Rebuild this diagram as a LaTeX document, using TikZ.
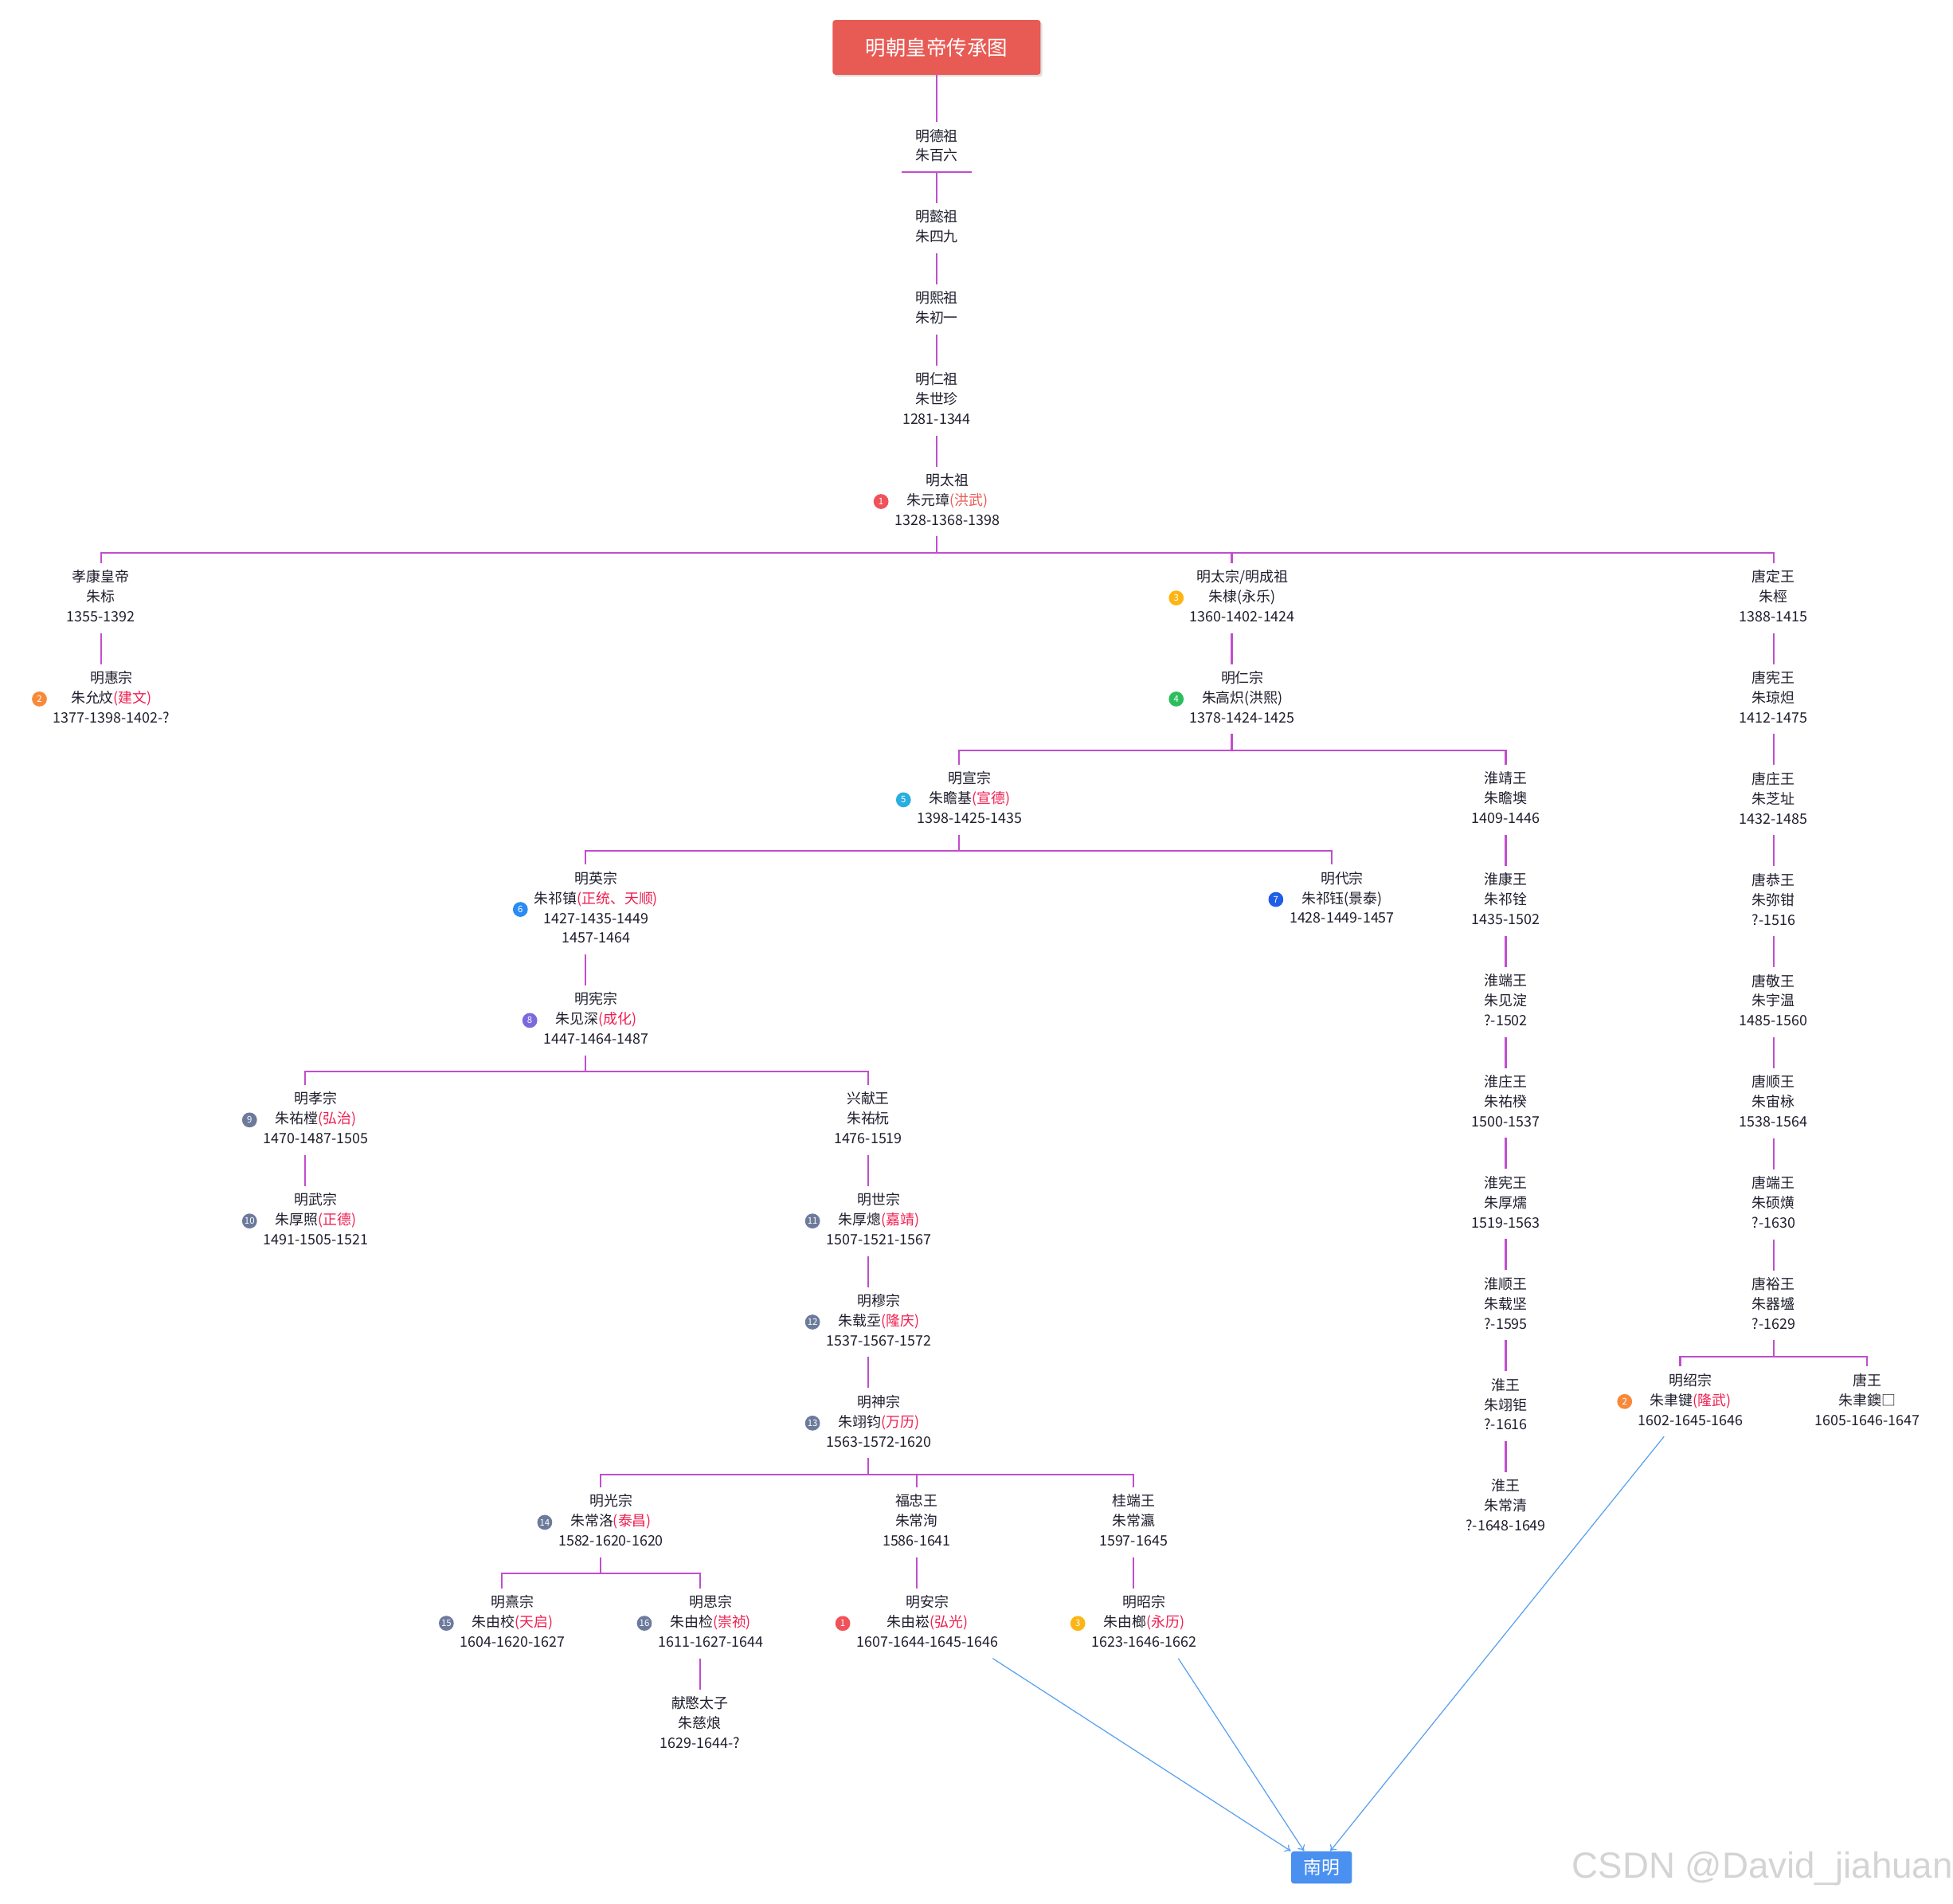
\documentclass[tikz,border=0pt]{standalone}
\usepackage{fontspec}
\usepackage{tikz}
\usetikzlibrary{shapes,arrows.meta,positioning,shadows}

\newfontfamily\cjk{Noto Sans CJK SC}
\newfontfamily\latin{Liberation Sans}

\definecolor{linecol}{RGB}{192,78,206}
\definecolor{arrowcol}{RGB}{90,160,240}
\definecolor{titlecol}{RGB}{232,91,85}
\definecolor{haocol}{RGB}{240,30,80}
\definecolor{inkcol}{RGB}{30,30,45}
\definecolor{nancol}{RGB}{74,144,240}
\definecolor{bred}{RGB}{240,82,90}
\definecolor{borange}{RGB}{247,137,58}
\definecolor{byellow}{RGB}{253,181,21}
\definecolor{bgreen}{RGB}{44,190,94}
\definecolor{bcyan}{RGB}{42,174,224}
\definecolor{bblue}{RGB}{42,140,242}
\definecolor{bnavy}{RGB}{30,94,232}
\definecolor{bpurple}{RGB}{126,104,222}
\definecolor{bslate}{RGB}{108,122,156}

\newcommand{\rows}[1]{\begin{tabular}{@{}c@{}}#1\end{tabular}}
\newcommand{\hao}[1]{\textcolor{haocol}{(#1)}}
\newcommand{\gap}{\hspace*{0.532cm}}

\tikzset{
    person/.style={inner xsep=2pt, inner ysep=3.5pt, text=inkcol, font=\cjk\fontsize{10.2}{14.2}\selectfont},
    badge/.style={circle, fill=#1, text=white, inner sep=0pt, minimum size=0.375cm, font=\cjk\fontsize{6.5}{7}\selectfont},
    branch/.style={draw=linecol, line width=1.3pt},
    toNan/.style={-{To[length=4pt,width=6pt]}, draw=arrowcol, line width=0.7pt},
}

\begin{document}
\begin{tikzpicture}[x=0.03128cm, y=-0.03128cm, node distance=0.78cm]
    \useasboundingbox (0,0) rectangle (1568,1528);

    \node (title) [rectangle, rounded corners=2pt, fill=titlecol, text=white, minimum width=5.22cm, minimum height=1.376cm, font=\cjk\fontsize{14.5}{17}\selectfont, drop shadow={shadow xshift=1.2pt, shadow yshift=-1.5pt, opacity=0.25}] at (752,38) {明朝皇帝传承图};

    % ancestors
    \node (dezu) [person] at (752,118) {\rows{明德祖\\朱百六}};
    \node (yizu) [person, below=of dezu] {\rows{明懿祖\\朱四九}};
    \node (xizu) [person, below=of yizu] {\rows{明熙祖\\朱初一}};
    \node (renzu) [person, below=of xizu] {\rows{明仁祖\\朱世珍\\1281-1344}};
    \node (taizu) [person, below=of renzu] {\gap\rows{明太祖\\朱元璋\textcolor{titlecol}{(洪武)}\\1328-1368-1398}};
    \node (taizuno) [badge=bred, right=2pt of taizu.west] {1};

    % sons of taizu
    \node (xiaokang) [person] at (81,480) {\rows{孝康皇帝\\朱标\\1355-1392}};
    \node (huizong) [person, below=of xiaokang] {\gap\rows{明惠宗\\朱允炆\hao{建文}\\1377-1398-1402-?}};
    \node (huizongno) [badge=borange, right=2pt of huizong.west] {2};
    \node (taizong) [person] at (989,480) {\gap\rows{明太宗/明成祖\\朱棣(永乐)\\1360-1402-1424}};
    \node (taizongno) [badge=byellow, right=2pt of taizong.west] {3};
    \node (renzong) [person, below=of taizong] {\gap\rows{明仁宗\\朱高炽(洪熙)\\1378-1424-1425}};
    \node (renzongno) [badge=bgreen, right=2pt of renzong.west] {4};

    % tang line
    \node (dingwang) [person] at (1424,480) {\rows{唐定王\\朱桱\\1388-1415}};
    \node (xianwangT) [person, below=of dingwang] {\rows{唐宪王\\朱琼炟\\1412-1475}};
    \node (zhuangwangT) [person, below=of xianwangT] {\rows{唐庄王\\朱芝址\\1432-1485}};
    \node (gongwangT) [person, below=of zhuangwangT] {\rows{唐恭王\\朱弥钳\\?-1516}};
    \node (jingwangT) [person, below=of gongwangT] {\rows{唐敬王\\朱宇温\\1485-1560}};
    \node (shunwangT) [person, below=of jingwangT] {\rows{唐顺王\\朱宙栐\\1538-1564}};
    \node (duanwangT) [person, below=of shunwangT] {\rows{唐端王\\朱硕熿\\?-1630}};
    \node (yuwangT) [person, below=of duanwangT] {\rows{唐裕王\\朱器墭\\?-1629}};
    \node (shaozong) [person] at (1349,1125) {\gap\rows{明绍宗\\朱聿键\hao{隆武}\\1602-1645-1646}};
    \node (shaozongno) [badge=borange, right=2pt of shaozong.west] {2};
    \node (tangwang) [person] at (1499,1125) {\rows{唐王\\朱聿鐭□\\1605-1646-1647}};

    % sons of renzong, huai line
    \node (xuanzong) [person] at (770,642) {\gap\rows{明宣宗\\朱瞻基\hao{宣德}\\1398-1425-1435}};
    \node (xuanzongno) [badge=bcyan, right=2pt of xuanzong.west] {5};
    \node (jingwangH) [person] at (1209,642) {\rows{淮靖王\\朱瞻墺\\1409-1446}};
    \node (kangwangH) [person, below=of jingwangH] {\rows{淮康王\\朱祁铨\\1435-1502}};
    \node (duanwangH) [person, below=of kangwangH] {\rows{淮端王\\朱见淀\\?-1502}};
    \node (zhuangwangH) [person, below=of duanwangH] {\rows{淮庄王\\朱祐楑\\1500-1537}};
    \node (xianwangH) [person, below=of zhuangwangH] {\rows{淮宪王\\朱厚燸\\1519-1563}};
    \node (shunwangH) [person, below=of xianwangH] {\rows{淮顺王\\朱载坚\\?-1595}};
    \node (huaiwangA) [person, below=of shunwangH] {\rows{淮王\\朱翊钜\\?-1616}};
    \node (huaiwangB) [person, below=of huaiwangA] {\rows{淮王\\朱常清\\?-1648-1649}};

    % sons of xuanzong
    \node (yingzong) [person] at (470,730) {\gap\rows{明英宗\\朱祁镇\hao{正统、天顺}\\1427-1435-1449\\1457-1464}};
    \node (yingzongno) [badge=bblue, right=2pt of yingzong.west] {6};
    \node (daizong) [person] at (1069,722) {\gap\rows{明代宗\\朱祁钰(景泰)\\1428-1449-1457}};
    \node (daizongno) [badge=bnavy, right=2pt of daizong.west] {7};
    \node (xianzong) [person, below=of yingzong] {\gap\rows{明宪宗\\朱见深\hao{成化}\\1447-1464-1487}};
    \node (xianzongno) [badge=bpurple, right=2pt of xianzong.west] {8};

    % sons of xianzong
    \node (xiaozong) [person] at (245,899) {\gap\rows{明孝宗\\朱祐樘\hao{弘治}\\1470-1487-1505}};
    \node (xiaozongno) [badge=bslate, right=2pt of xiaozong.west] {9};
    \node (wuzong) [person, below=of xiaozong] {\gap\rows{明武宗\\朱厚照\hao{正德}\\1491-1505-1521}};
    \node (wuzongno) [badge=bslate, right=2pt of wuzong.west] {10};
    \node (xingxian) [person] at (697,899) {\rows{兴献王\\朱祐杬\\1476-1519}};
    \node (shizong) [person, below=of xingxian] {\gap\rows{明世宗\\朱厚熜\hao{嘉靖}\\1507-1521-1567}};
    \node (shizongno) [badge=bslate, right=2pt of shizong.west] {11};
    \node (muzong) [person, below=of shizong] {\gap\rows{明穆宗\\朱载坖\hao{隆庆}\\1537-1567-1572}};
    \node (muzongno) [badge=bslate, right=2pt of muzong.west] {12};
    \node (shenzong) [person, below=of muzong] {\gap\rows{明神宗\\朱翊钧\hao{万历}\\1563-1572-1620}};
    \node (shenzongno) [badge=bslate, right=2pt of shenzong.west] {13};

    % sons of shenzong
    \node (guangzong) [person] at (482,1222) {\gap\rows{明光宗\\朱常洛\hao{泰昌}\\1582-1620-1620}};
    \node (guangzongno) [badge=bslate, right=2pt of guangzong.west] {14};
    \node (fuwang) [person] at (736,1222) {\rows{福忠王\\朱常洵\\1586-1641}};
    \node (guiwang) [person] at (910,1222) {\rows{桂端王\\朱常瀛\\1597-1645}};
    \node (xizong) [person] at (403,1303) {\gap\rows{明熹宗\\朱由校\hao{天启}\\1604-1620-1627}};
    \node (xizongno) [badge=bslate, right=2pt of xizong.west] {15};
    \node (sizong) [person] at (562,1303) {\gap\rows{明思宗\\朱由检\hao{崇祯}\\1611-1627-1644}};
    \node (sizongno) [badge=bslate, right=2pt of sizong.west] {16};
    \node (xianmin) [person, below=of sizong] {\rows{献愍太子\\朱慈烺\\1629-1644-?}};
    \node (anzong) [person, below=of fuwang] {\gap\rows{明安宗\\朱由崧\hao{弘光}\\1607-1644-1645-1646}};
    \node (anzongno) [badge=bred, right=2pt of anzong.west] {1};
    \node (zhaozong) [person, below=of guiwang] {\gap\rows{明昭宗\\朱由榔\hao{永历}\\1623-1646-1662}};
    \node (zhaozongno) [badge=byellow, right=2pt of zhaozong.west] {3};

    \node (nanming) [rectangle, rounded corners=2pt, fill=nancol, text=white, minimum width=1.53cm, minimum height=0.81cm, font=\cjk\fontsize{13}{15}\selectfont] at (1061,1499) {南明};
    \node (csdn) [text=black!17, font=\latin\fontsize{26}{30}\selectfont] at (1415,1500) {CSDN @David\_jiahuan};

    % ancestor chain
    \draw[branch] (title) -- (dezu);
    \draw[branch] ([shift={(-28,0)}]dezu.south) -- ([shift={(28,0)}]dezu.south);
    \draw[branch] (dezu) -- (yizu);
    \draw[branch] (yizu) -- (xizu);
    \draw[branch] (xizu) -- (renzu);
    \draw[branch] (renzu) -- (taizu);

    \draw[branch] (taizu.south) -- ++(0,13) -| (xiaokang.north);
    \draw[branch] (taizu.south) -- ++(0,13) -| (taizong.north);
    \draw[branch] (taizu.south) -- ++(0,13) -| (dingwang.north);
    \draw[branch] (xiaokang) -- (huizong);
    \draw[branch] (taizong) -- (renzong);

    \draw[branch] (dingwang) -- (xianwangT);
    \draw[branch] (xianwangT) -- (zhuangwangT);
    \draw[branch] (zhuangwangT) -- (gongwangT);
    \draw[branch] (gongwangT) -- (jingwangT);
    \draw[branch] (jingwangT) -- (shunwangT);
    \draw[branch] (shunwangT) -- (duanwangT);
    \draw[branch] (duanwangT) -- (yuwangT);
    \draw[branch] (yuwangT.south) -- ++(0,13) -| (shaozong.north);
    \draw[branch] (yuwangT.south) -- ++(0,13) -| (tangwang.north);

    \draw[branch] (renzong.south) -- ++(0,13) -| (xuanzong.north);
    \draw[branch] (renzong.south) -- ++(0,13) -| (jingwangH.north);
    \draw[branch] (jingwangH) -- (kangwangH);
    \draw[branch] (kangwangH) -- (duanwangH);
    \draw[branch] (duanwangH) -- (zhuangwangH);
    \draw[branch] (zhuangwangH) -- (xianwangH);
    \draw[branch] (xianwangH) -- (shunwangH);
    \draw[branch] (shunwangH) -- (huaiwangA);
    \draw[branch] (huaiwangA) -- (huaiwangB);

    \draw[branch] (xuanzong.south) -- ++(0,13) -| (yingzong.north);
    \draw[branch] (xuanzong.south) -- ++(0,13) -| (daizong.north);
    \draw[branch] (yingzong) -- (xianzong);

    \draw[branch] (xianzong.south) -- ++(0,13) -| (xiaozong.north);
    \draw[branch] (xianzong.south) -- ++(0,13) -| (xingxian.north);
    \draw[branch] (xiaozong) -- (wuzong);
    \draw[branch] (xingxian) -- (shizong);
    \draw[branch] (shizong) -- (muzong);
    \draw[branch] (muzong) -- (shenzong);

    \draw[branch] (shenzong.south) -- ++(0,13) -| (guangzong.north);
    \draw[branch] (shenzong.south) -- ++(0,13) -| (fuwang.north);
    \draw[branch] (shenzong.south) -- ++(0,13) -| (guiwang.north);
    \draw[branch] (guangzong.south) -- ++(0,13) -| (xizong.north);
    \draw[branch] (guangzong.south) -- ++(0,13) -| (sizong.north);
    \draw[branch] (sizong) -- (xianmin);
    \draw[branch] (fuwang) -- (anzong);
    \draw[branch] (guiwang) -- (zhaozong);

    % southern ming
    \draw[toNan] ([shift={(61,0)}]anzong.south) -- (nanming.north west);
    \draw[toNan] ([shift={(36,0)}]zhaozong.south) -- ([shift={(-14,0)}]nanming.north);
    \draw[toNan] ([shift={(-13,0)}]shaozong.south) -- ([shift={(7,0)}]nanming.north);
\end{tikzpicture}
\end{document}
